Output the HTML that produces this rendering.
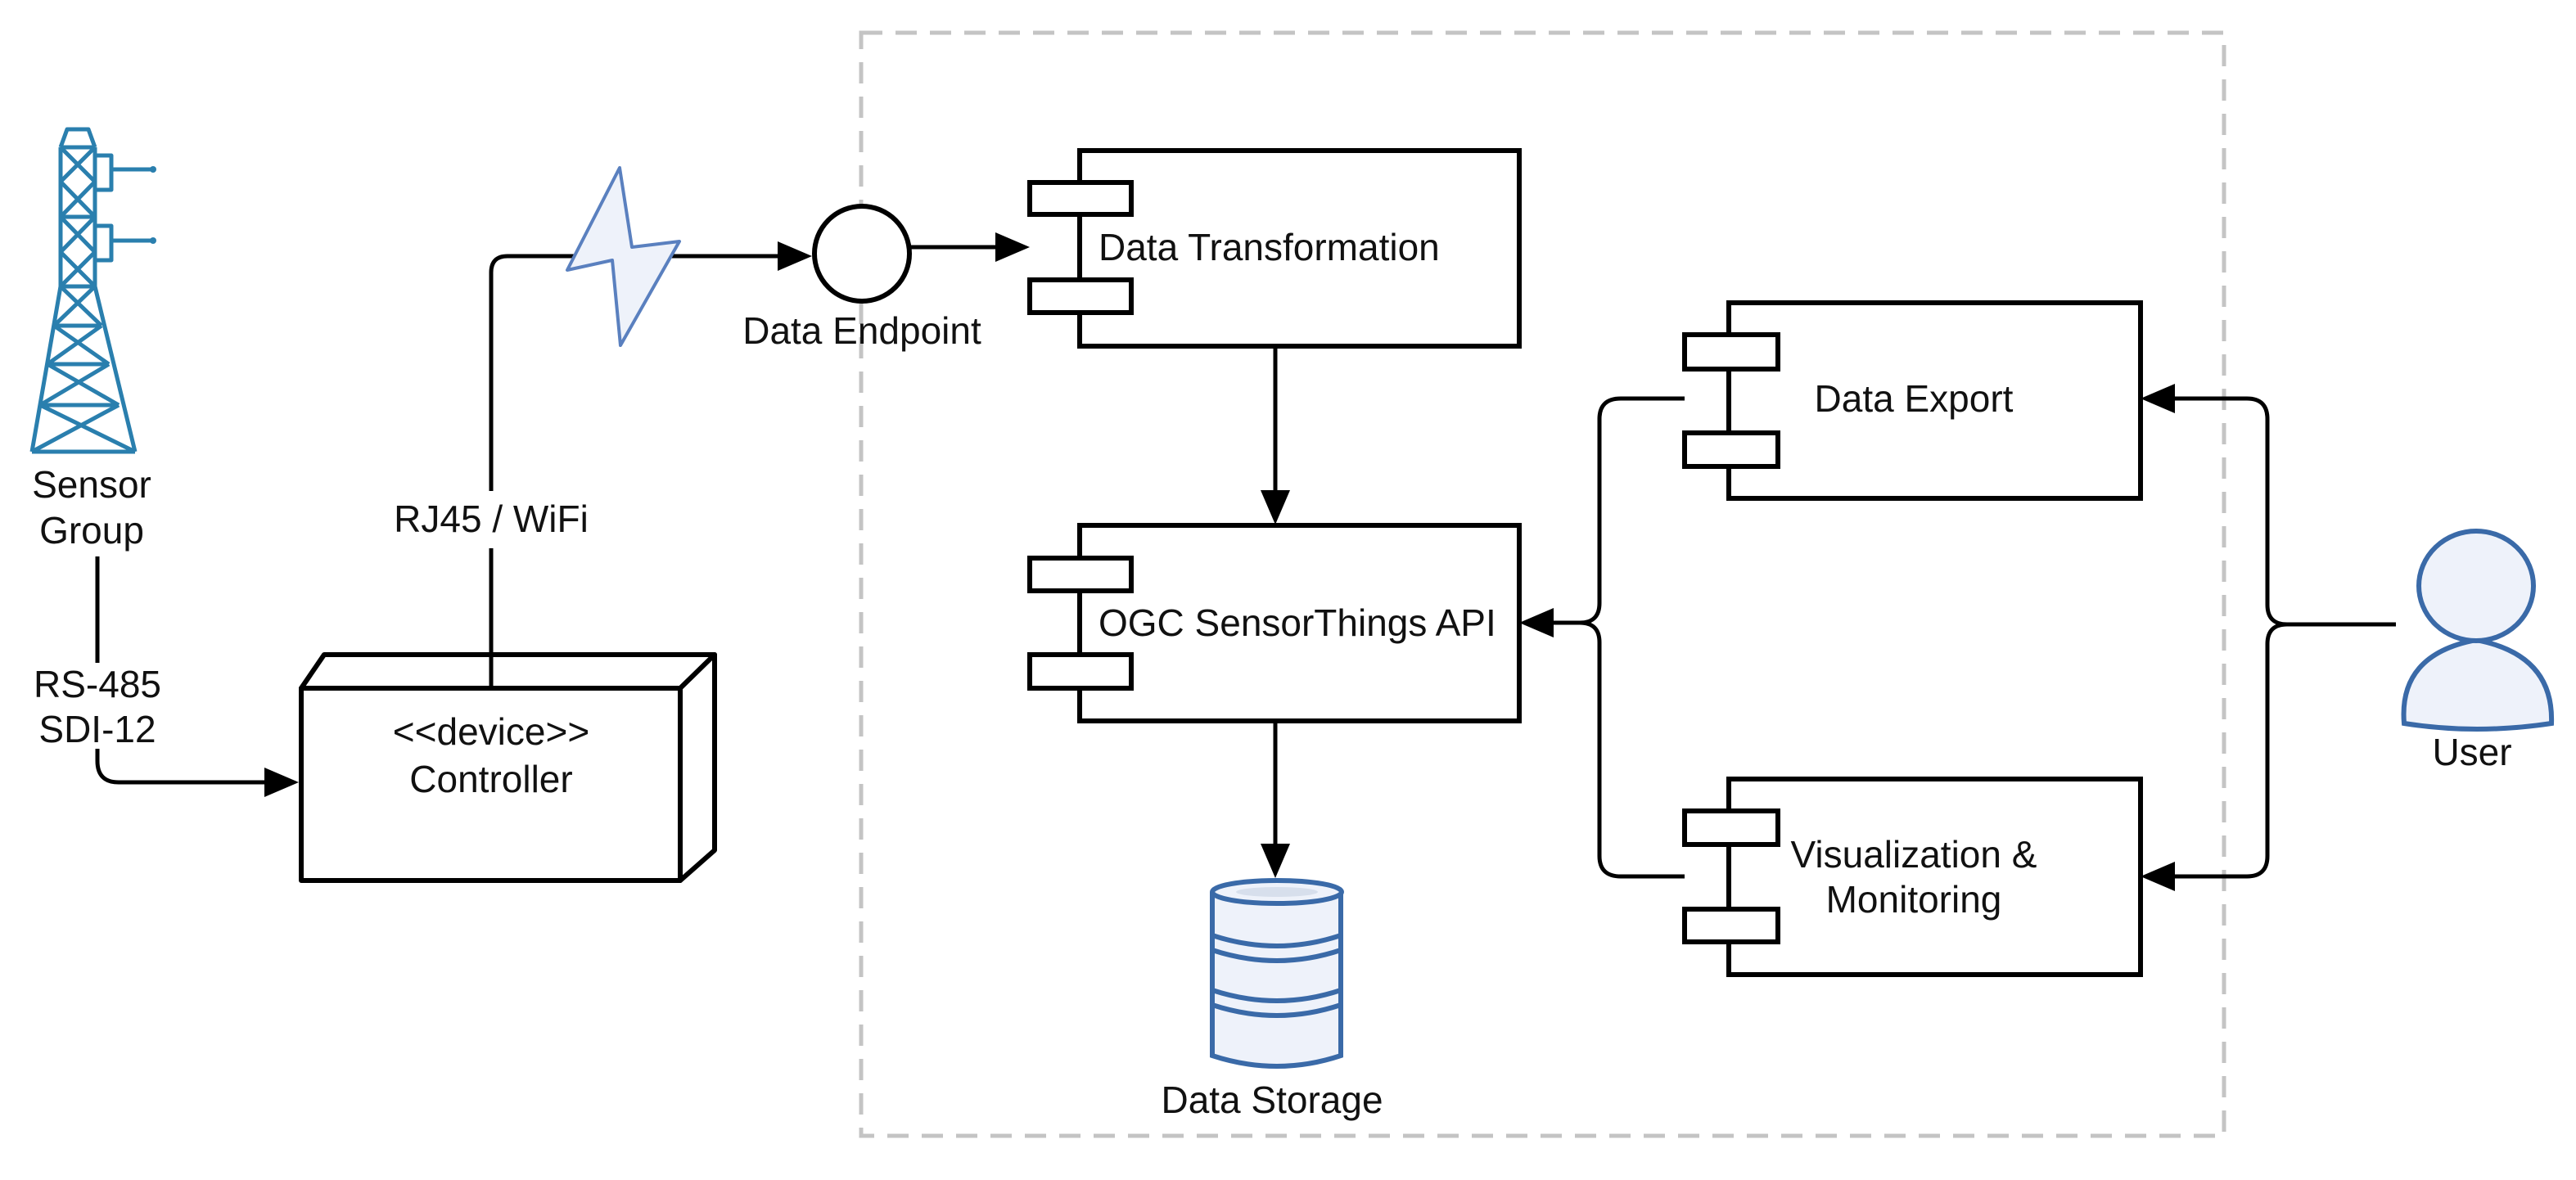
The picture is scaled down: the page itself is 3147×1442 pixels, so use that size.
<!DOCTYPE html>
<html><head><meta charset="utf-8"><style>
html,body{margin:0;padding:0;background:#fff;}
svg{display:block;}
text{font-family:"Liberation Sans",Arial,sans-serif;font-size:46px;fill:#111;}
</style></head><body>
<svg width="3147" height="1442" viewBox="0 0 3147 1442" xmlns="http://www.w3.org/2000/svg">
<!-- dashed container -->
<rect x="1052" y="40" width="1665" height="1348" fill="none" stroke="#c4c4c4" stroke-width="5" stroke-dasharray="26,16"/>

<!-- tower -->
<g stroke="#2a7fae" stroke-width="5" fill="none" stroke-linejoin="round">
<path d="M74,180 L82,158 L108,158 L116,180"/>
<line x1="74" y1="180" x2="116" y2="180"/>
<path d="M74,180 L74,350 L39,552"/>
<path d="M116,180 L116,350 L165,552"/>
<line x1="39" y1="552" x2="165" y2="552"/>
<line x1="74" y1="265" x2="116" y2="265"/>
<line x1="74" y1="350" x2="116" y2="350"/>
<line x1="66" y1="398" x2="124" y2="398"/>
<line x1="58" y1="445" x2="133" y2="445"/>
<line x1="49" y1="495" x2="145" y2="495"/>
<path d="M74,180 L116,222 L74,265 M116,180 L74,222 L116,265"/>
<path d="M74,265 L116,308 L74,350 M116,265 L74,308 L116,350"/>
<path d="M74,350 L124,398 M116,350 L66,398"/>
<path d="M66,398 L133,445 M124,398 L58,445"/>
<path d="M58,445 L145,495 M133,445 L49,495"/>
<path d="M49,495 L165,552 M145,495 L39,552"/>
<path d="M116,190 L136,190 L136,232 L116,232 M136,207 L186,207"/>
<path d="M116,276 L136,276 L136,318 L116,318 M136,294 L186,294"/>
</g>
<circle cx="187" cy="207" r="4" fill="#2a7fae"/>
<circle cx="187" cy="294" r="4" fill="#2a7fae"/>
<text x="112" y="608" text-anchor="middle">Sensor</text>
<text x="112" y="664" text-anchor="middle">Group</text>

<!-- RS-485 connector -->
<g stroke="#000" stroke-width="5" fill="none">
<line x1="119" y1="680" x2="119" y2="810"/>
<path d="M119,915 L119,930 Q119,956 145,956 L325,956"/>
</g>
<polygon points="365,956 323,938 323,974" fill="#000"/>
<text x="119" y="852" text-anchor="middle">RS-485</text>
<text x="119" y="907" text-anchor="middle">SDI-12</text>

<!-- controller node -->
<g stroke="#000" stroke-width="6" fill="#fff" stroke-linejoin="round">
<polygon points="368,841 396,800 873,800 831,841"/>
<polygon points="831,841 873,800 873,1039 831,1076"/>
<rect x="368" y="841" width="463" height="235"/>
</g>
<text x="600" y="910" text-anchor="middle">&lt;&lt;device&gt;&gt;</text>
<text x="600" y="968" text-anchor="middle">Controller</text>

<!-- RJ45 connector -->
<g stroke="#000" stroke-width="5" fill="none">
<path d="M600,841 L600,670"/>
<path d="M600,600 L600,333 Q600,313 620,313 L950,313"/>
</g>
<polygon points="992,313 950,295 950,331" fill="#000"/>
<text x="600" y="650" text-anchor="middle">RJ45 / WiFi</text>

<!-- lightning -->
<polygon points="757,205 693,330 748,318 758,422 830,295 772,302" fill="#eef2fa" stroke="#5a80bf" stroke-width="4" stroke-linejoin="round"/>

<!-- endpoint -->
<circle cx="1053" cy="310" r="58" fill="#fff" stroke="#000" stroke-width="6"/>
<text x="1053" y="420" text-anchor="middle">Data Endpoint</text>
<line x1="1111" y1="302" x2="1220" y2="302" stroke="#000" stroke-width="5"/>
<polygon points="1258,302 1216,284 1216,320" fill="#000"/>

<!-- components -->
<g stroke="#000" stroke-width="6" fill="#fff">
<rect x="1319" y="184" width="537" height="239"/>
<rect x="1258" y="223" width="124" height="39"/>
<rect x="1258" y="342" width="124" height="40"/>
<rect x="1319" y="642" width="537" height="239"/>
<rect x="1258" y="682" width="124" height="40"/>
<rect x="1258" y="800" width="124" height="41"/>
<rect x="2112" y="370" width="503" height="239"/>
<rect x="2058" y="409" width="114" height="42"/>
<rect x="2058" y="529" width="114" height="41"/>
<rect x="2112" y="952" width="503" height="239"/>
<rect x="2058" y="991" width="114" height="41"/>
<rect x="2058" y="1111" width="114" height="40"/>
</g>
<text x="1342" y="318">Data Transformation</text>
<text x="1342" y="777">OGC SensorThings API</text>
<text x="2338" y="503" text-anchor="middle">Data Export</text>
<text x="2338" y="1060" text-anchor="middle">Visualization &amp;</text>
<text x="2338" y="1115" text-anchor="middle">Monitoring</text>

<!-- vertical arrows -->
<g stroke="#000" stroke-width="5">
<line x1="1558" y1="423" x2="1558" y2="600"/>
<line x1="1558" y1="881" x2="1558" y2="1032"/>
</g>
<polygon points="1558,641 1540,599 1576,599" fill="#000"/>
<polygon points="1558,1073 1540,1031 1576,1031" fill="#000"/>

<!-- left bracket -->
<g stroke="#000" stroke-width="5" fill="none">
<path d="M1896,761 L1930,761 Q1954,761 1954,737 L1954,512 Q1954,487 1980,487 L2058,487"/>
<path d="M1930,761 Q1954,761 1954,785 L1954,1046 Q1954,1071 1980,1071 L2058,1071"/>
</g>
<polygon points="1856,761 1898,743 1898,779" fill="#000"/>

<!-- right bracket -->
<g stroke="#000" stroke-width="5" fill="none">
<path d="M2927,763 L2794,763 Q2770,763 2770,739 L2770,512 Q2770,487 2745,487 L2655,487"/>
<path d="M2794,763 Q2770,763 2770,787 L2770,1046 Q2770,1071 2745,1071 L2655,1071"/>
</g>
<polygon points="2615,487 2657,469 2657,505" fill="#000"/>
<polygon points="2615,1071 2657,1053 2657,1089" fill="#000"/>

<!-- user -->
<g fill="#eef2fa" stroke="#3a6aa8" stroke-width="6">
<path d="M2937,884 Q2930,800 3025,782 Q3120,800 3117,884 Q3025,898 2937,884 Z"/>
<ellipse cx="3025" cy="716" rx="70" ry="67"/>
</g>
<text x="3020" y="935" text-anchor="middle">User</text>

<!-- database -->
<g fill="#eef2fa" stroke="#3a6aa8" stroke-width="6">
<path d="M1481,1090 L1481,1290 Q1560,1316 1638,1290 L1638,1090"/>
<path d="M1481,1210 Q1560,1236 1638,1210"/>
<path d="M1481,1228 Q1560,1254 1638,1228"/>
<path d="M1481,1143 Q1560,1169 1638,1143"/>
<path d="M1481,1161 Q1560,1187 1638,1161"/>
<ellipse cx="1560" cy="1090" rx="79" ry="14"/>
</g>
<ellipse cx="1560" cy="1090" rx="50" ry="6" fill="#d7dfec"/>
<text x="1554" y="1360" text-anchor="middle">Data Storage</text>
</svg>
</body></html>
